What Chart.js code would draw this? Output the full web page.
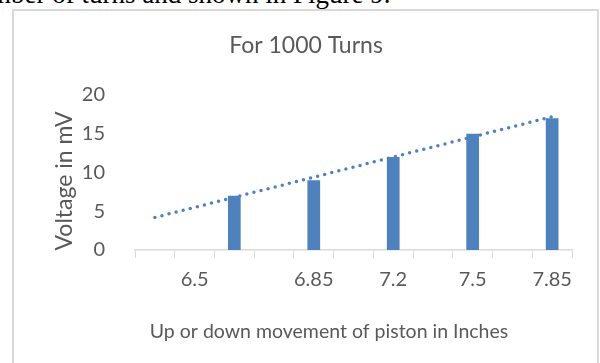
<!DOCTYPE html>
<html lang="en">
<head>
  <meta charset="UTF-8">
  <title>For 1000 Turns</title>
  <style>
    body { margin: 0; width: 600px; height: 363px; overflow: hidden; background: #fff; position: relative; }
    .caption { position: absolute; left: -37px; top: -21px; font: 27px "Liberation Serif", serif; white-space: nowrap; color: #000; }
    .frame { position: absolute; left: 12px; top: 9px; width: 587px; height: 400px; border: 2px solid #d9d9d9; box-sizing: border-box; }
    .chart-box { position: absolute; left: 0; top: 0; width: 600px; height: 363px; }
  </style>
</head>
<body>
  <div class="caption">number of turns and shown in Figure 9.</div>
  <div class="frame"></div>
  <div class="chart-box">
    <canvas id="myChart"></canvas>
  </div>

  <script src="https://cdn.jsdelivr.net/npm/chart.js"></script>

  <script>
    // x axis slots, Excel shows only some of the labels
    const categories = ['', '6.5', '', '', '6.85', '', '7.2', '', '7.5', '', '7.85'];
    const voltage = [null, null, 7, null, 9, null, 12, null, 15, null, 17];
    // dotted trendline, ends
    const trendline = [4.2, null, null, null, null, null, null, null, null, null, 17.2];
    const yMin = 0;
    const yMax = 20;
    const yStep = 5;

    const blue = '#4f81bd';
    const grey = '#595959';

    // axis titles are centred on the whole chart in the original, not on the plot
    const axisTitles = {
      id: 'axisTitles',
      afterDraw(chart) {
        const ctx = chart.ctx;
        ctx.save();
        ctx.fillStyle = grey;
        ctx.textAlign = 'center';
        ctx.textBaseline = 'middle';
        ctx.font = '23px Lato';
        ctx.translate(65, 181);
        ctx.rotate(-Math.PI / 2);
        ctx.fillText('Voltage in mV', 0, 0);
        ctx.restore();

        ctx.save();
        ctx.fillStyle = grey;
        ctx.textAlign = 'center';
        ctx.textBaseline = 'middle';
        ctx.font = '19.5px Lato';
        ctx.fillText('Up or down movement of piston in Inches', 329, 332);
        ctx.restore();
      }
    };

    new Chart(document.getElementById('myChart'), {
      type: 'bar',
      data: {
        labels: categories,
        datasets: [{
          type: 'line',
          label: 'Linear trend',
          data: trendline,
          spanGaps: true,
          borderColor: blue,
          borderWidth: 3.5,
          borderDash: [0, 7.3],
          borderCapStyle: 'round',
          pointRadius: 0,
          fill: false,
          order: 0
        }, {
          label: 'Voltage',
          data: voltage,
          backgroundColor: blue,
          barPercentage: 0.32,
          categoryPercentage: 1,
          order: 1
        }]
      },
      options: {
        responsive: true,
        maintainAspectRatio: false,
        animation: false,
        layout: {
          padding: { left: 40, right: 28, top: 0, bottom: 0 }
        },
        plugins: {
          legend: { display: false },
          tooltip: { enabled: false },
          title: {
            display: true,
            text: 'For 1000 Turns',
            color: grey,
            font: { family: 'Lato', size: 23, weight: 'normal' },
            padding: { top: 32, bottom: 35.4 }
          }
        },
        scales: {
          x: {
            afterFit: (scale) => { scale.height = 113; },
            border: { color: '#d9d9d9', width: 1.5 },
            grid: {
              offset: true,
              drawOnChartArea: false,
              drawTicks: true,
              tickLength: 8,
              color: '#d9d9d9'
            },
            ticks: {
              autoSkip: false,
              maxRotation: 0,
              padding: 10,
              color: grey,
              font: { family: 'Lato', size: 20 }
            }
          },
          y: {
            min: yMin,
            max: yMax,
            afterFit: (scale) => { scale.width = 95; },
            border: { display: false },
            grid: { display: false },
            ticks: {
              stepSize: yStep,
              padding: 22,
              color: grey,
              font: { family: 'Lato', size: 20 }
            }
          }
        }
      },
      plugins: [axisTitles]
    });
  </script>
</body>
</html>
